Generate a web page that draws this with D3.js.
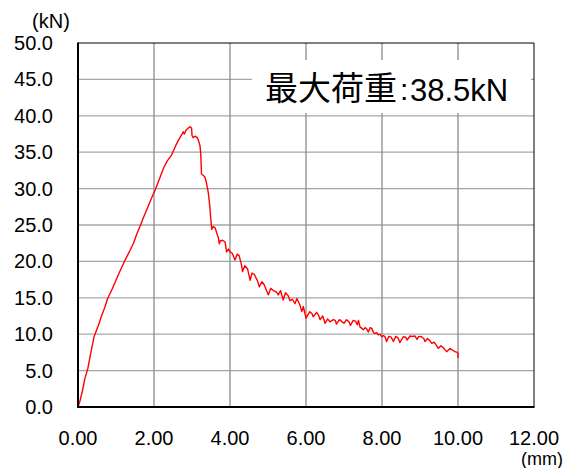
<!DOCTYPE html>
<html><head><meta charset="utf-8">
<script src="https://cdn.jsdelivr.net/npm/d3@7"></script>
<style>html,body{margin:0;padding:0;background:#fff;}svg{display:block;}</style>
</head><body>
<svg id="chart" width="568" height="468"></svg>
<script>
// Displacement (mm)
const disp = [0,0.05,0.12,0.18,0.26,0.32,0.37,0.42,0.47,0.55,0.61,0.7,0.78,0.9,1.0,1.1,1.24,1.35,1.46,1.55,1.63,1.72,1.81,1.92,2.03,2.14,2.25,2.35,2.46,2.52,2.58,2.66,2.73,2.77,2.8,2.84,2.9,2.95,2.99,3.0,3.03,3.08,3.14,3.17,3.21,3.23,3.25,3.3,3.34,3.38,3.43,3.47,3.49,3.52,3.56,3.61,3.65,3.69,3.72,3.74,3.8,3.87,3.91,3.96,4.0,4.06,4.13,4.19,4.24,4.3,4.33,4.39,4.46,4.53,4.58,4.64,4.72,4.77,4.84,4.9,4.96,5.01,5.07,5.14,5.22,5.27,5.33,5.4,5.46,5.53,5.58,5.64,5.71,5.76,5.84,5.89,5.93,6.0,6.1,6.16,6.19,6.28,6.33,6.37,6.44,6.5,6.57,6.63,6.72,6.77,6.8,6.88,6.95,7.0,7.07,7.13,7.17,7.24,7.3,7.35,7.38,7.42,7.47,7.51,7.56,7.6,7.64,7.69,7.73,7.78,7.82,7.86,7.9,7.95,7.99,8.04,8.08,8.12,8.18,8.24,8.3,8.36,8.42,8.47,8.56,8.62,8.66,8.74,8.8,8.87,8.92,8.97,9.04,9.1,9.13,9.2,9.26,9.31,9.37,9.43,9.48,9.55,9.62,9.7,9.79,9.86,9.92,9.98,10.0,10.0];
// Load (kN)
const load = [0,0.8,2.3,3.9,5.3,7.0,8.3,9.6,10.3,11.4,12.4,13.6,14.9,16.2,17.4,18.6,20.2,21.3,22.5,23.8,24.8,26.0,27.1,28.5,29.8,31.3,32.8,33.8,34.6,35.3,36.0,36.8,37.4,37.8,37.5,38.0,38.3,38.5,38.3,37.3,37.0,37.2,37.0,36.6,35.9,34.8,32.0,31.8,31.6,30.8,29.4,27.5,26.1,24.4,24.8,24.6,23.9,23.3,22.4,22.8,22.9,22.7,21.3,21.7,21.3,21.1,20.2,21.0,20.8,19.6,18.6,19.4,19.0,17.4,18.4,18.2,17.4,16.5,17.2,16.8,16.0,15.4,16.3,16.0,15.8,15.4,16.0,14.7,15.7,15.3,14.6,14.8,14.2,14.9,14.0,13.1,13.8,12.2,13.1,12.8,12.4,13.0,12.6,12.0,12.5,11.5,12.1,11.7,12.0,11.9,11.4,12.0,11.7,11.5,12.0,11.7,11.2,11.9,11.8,11.3,11.9,11.0,10.8,10.6,10.9,10.7,10.3,10.9,10.8,10.2,10.1,10.2,9.9,10.0,9.65,9.8,9.65,9.0,9.7,9.6,9.0,9.7,9.5,8.85,9.65,9.6,9.2,9.75,9.7,9.75,9.3,9.7,9.65,9.4,9.0,9.4,9.1,8.75,8.9,8.5,8.05,8.4,8.1,7.6,8.05,7.8,7.6,7.5,7.35,6.7];
const xTicks = [0,2,4,6,8,10,12];
const yTicks = [0,5,10,15,20,25,30,35,40,45,50];
const xUnit = "(mm)";
const yUnit = "(kN)";
const labelCJK = "最大荷重";
const labelVal = "38.5kN";

const svg = d3.select("#chart");
const L = 78, R = 534, T = 43, B = 407;
const x = d3.scaleLinear().domain([0,12]).range([L,R]);
const y = d3.scaleLinear().domain([0,50]).range([B,T]);
const font = "'Liberation Sans', Arial, sans-serif";

// grid
svg.append("g").selectAll("line").data(yTicks.slice(1,-1)).join("line")
  .attr("x1",L).attr("x2",R).attr("y1",d=>y(d)).attr("y2",d=>y(d))
  .attr("stroke","#a6a6a6").attr("stroke-width",1.3);
svg.append("g").selectAll("line").data(xTicks.slice(1,-1)).join("line")
  .attr("y1",T).attr("y2",B).attr("x1",d=>x(d)).attr("x2",d=>x(d))
  .attr("stroke","#8c8c8c").attr("stroke-width",1.3);

// label box
svg.append("rect").attr("x",252).attr("y",60).attr("width",279).attr("height",53).attr("fill","#fff");

// frame
svg.append("line").attr("x1",L).attr("x2",R).attr("y1",T).attr("y2",T).attr("stroke","#000").attr("stroke-width",1);
svg.append("line").attr("x1",R).attr("x2",R).attr("y1",T).attr("y2",B).attr("stroke","#000").attr("stroke-width",1);

// curve
const line = d3.line().x((d,i)=>x(disp[i])).y((d,i)=>y(load[i]));
svg.append("path").datum(load).attr("d",line).attr("fill","none")
  .attr("stroke","#ff0000").attr("stroke-width",1.4).attr("stroke-linejoin","round");

svg.append("line").attr("x1",L).attr("x2",L).attr("y1",T-0.5).attr("y2",B+1).attr("stroke","#000").attr("stroke-width",2);
svg.append("line").attr("x1",L-1).attr("x2",R+0.5).attr("y1",B).attr("y2",B).attr("stroke","#000").attr("stroke-width",2);

// axes labels
svg.append("g").selectAll("text").data(yTicks).join("text")
  .attr("x",53).attr("y",d=>y(d)+7).attr("text-anchor","end")
  .attr("font-family",font).attr("font-size",20).attr("fill","#000")
  .text(d=>d.toFixed(1));
svg.append("g").selectAll("text").data(xTicks).join("text")
  .attr("x",d=>x(d)).attr("y",445).attr("text-anchor","middle")
  .attr("font-family",font).attr("font-size",20).attr("fill","#000")
  .text(d=>d.toFixed(2));
svg.append("text").attr("x",51).attr("y",28).attr("text-anchor","middle")
  .attr("font-family",font).attr("font-size",20).text(yUnit);
svg.append("text").attr("x",542).attr("y",465).attr("text-anchor","middle")
  .attr("font-family",font).attr("font-size",18).text(xUnit);

// annotation
svg.append("text").attr("x",265).attr("y",100)
  .attr("font-family","'Noto Sans CJK JP', sans-serif").attr("font-size",33).text(labelCJK);
svg.append("text").attr("x",400).attr("y",100)
  .attr("font-family",font).attr("font-size",30).text(":");
svg.append("text").attr("x",410).attr("y",101)
  .attr("font-family",font).attr("font-size",31).text(labelVal);
</script>
</body></html>
